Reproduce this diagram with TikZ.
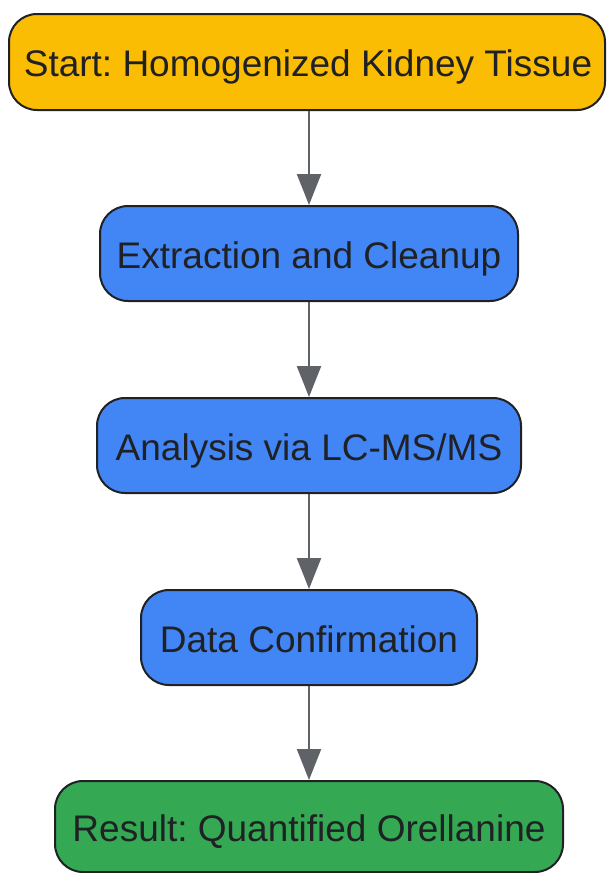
\documentclass[tikz,border=0pt]{standalone}
\usepackage{fontspec}
\setmainfont{Liberation Sans}
\usetikzlibrary{arrows.meta}
\definecolor{ylw}{HTML}{FBBC04}
\definecolor{blu}{HTML}{4285F4}
\definecolor{grn}{HTML}{34A853}
\definecolor{edge}{HTML}{202124}
\definecolor{arr}{HTML}{5F6368}
\frenchspacing
\begin{document}
\begin{tikzpicture}[x=1pt,y=-1pt,
  box/.style={draw=edge, line width=2pt, rounded corners=28pt, text=edge,
    font=\fontsize{37}{44}\selectfont, inner sep=0pt, anchor=center,
    text height=29pt, text depth=0pt},
  flow/.style={draw=arr, line width=2.2pt, -{Triangle[length=31pt,width=24pt]}}]
\useasboundingbox (0,0) rectangle (606,873);
\node[box, fill=ylw, minimum width=596pt, minimum height=96pt] (n1) at (307,62) {\hspace{2pt}Start: Homogenized Kidney Tissue};
\node[box, fill=blu, minimum width=418pt, minimum height=95pt] (n2) at (309,253.5) {Extraction and Cleanup};
\node[box, fill=blu, minimum width=424pt, minimum height=95pt] (n3) at (309,445.5) {Analysis via LC-MS/MS};
\node[box, fill=blu, minimum width=336pt, minimum height=95pt] (n4) at (309,637.5) {Data Confirmation};
\node[box, fill=grn, minimum width=508pt, minimum height=91pt] (n5) at (309,826.5) {Result: Quantified Orellanine};
\draw[flow] (n1.south -| n2.north) -- (n2.north);
\draw[flow] (n2.south) -- (n3.north);
\draw[flow] (n3.south) -- (n4.north);
\draw[flow] (n4.south) -- (n5.north);
\end{tikzpicture}
\end{document}
